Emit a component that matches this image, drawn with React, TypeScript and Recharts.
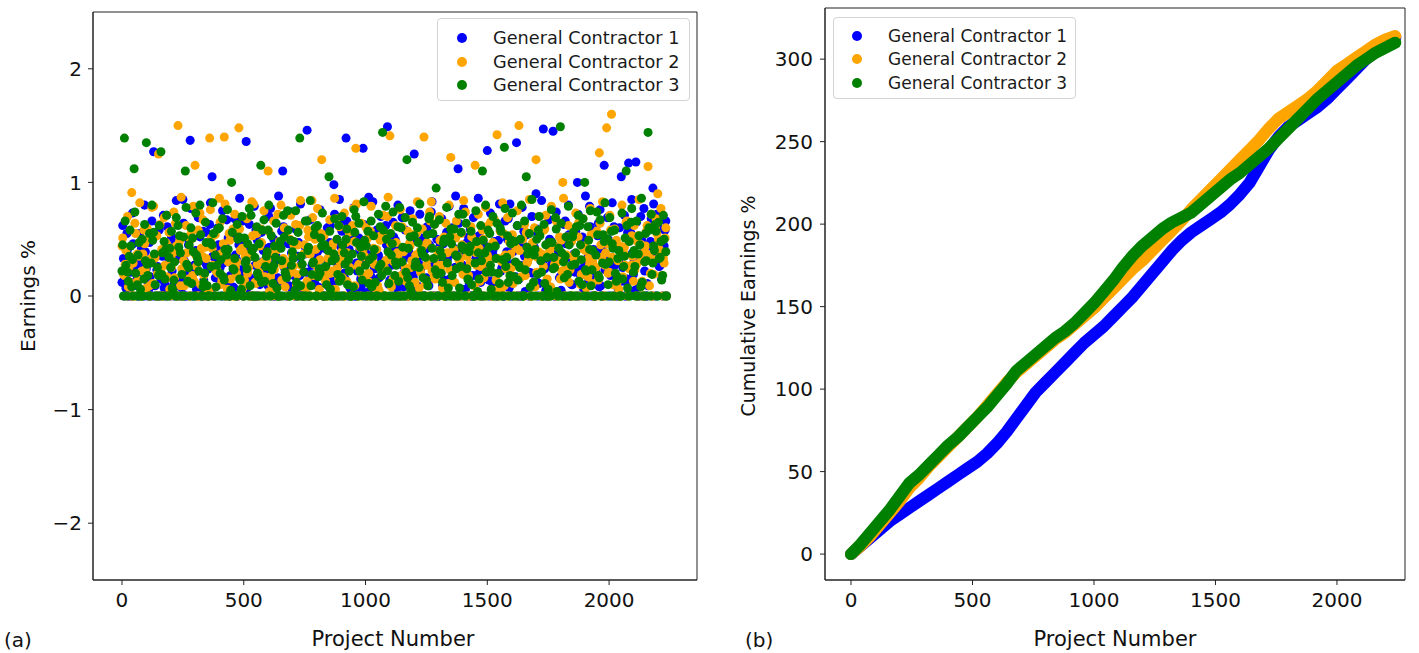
import React from 'react';
import { ScatterChart, Scatter, XAxis, YAxis, ZAxis, ReferenceArea } from 'recharts';

const SERIES_NAMES = ['General Contractor 1', 'General Contractor 2', 'General Contractor 3'];
const SERIES_COLORS = ['#0000ff', '#ffa500', '#008000'];
const X_TICKS = [0, 500, 1000, 1500, 2000];
const EARN_TICKS = [-2, -1, 0, 1, 2];
const CUM_TICKS = [0, 50, 100, 150, 200, 250, 300];
const EARN_STEP = 10; // project spacing of each sampled earnings set
const SET_OFFSETS = [0, 6, 3]; // project offset of the three sampled sets
const CUM_STEP = 40; // project spacing of sampled cumulative values

const earningsGC1 = [
  0.12, 0, 0.55, 0.08, 0, 0.31, 0.19, 0, 0.42, 0,
  0.24, 0.06, 0, 1.27, 0.36, 0, 0.15, 0.71, 0, 0.28,
  0, 0.47, 0.09, 0, 0.33, 0.85, 0, 0.14, 1.37, 0,
  0.21, 0, 0.52, 0.04, 0, 0.26, 0.63, 1.05, 0, 0.17,
  0.38, 0, 0.11, 0.67, 0, 0.29, 0.07, 0, 0.45, 0.2,
  0, 1.36, 0.34, 0, 0.13, 0.58, 0, 0.23, 0.4, 0,
  0.09, 0.77, 0, 0.31, 0.16, 0, 1.1, 0.49, 0, 0.25,
  0.05, 0, 0.62, 0.18, 0, 0.37, 1.46, 0, 0.27, 0.12,
  0, 0.55, 0.22, 0, 0.41, 0.08, 0, 0.98, 0.33, 0,
  0.19, 0.64, 1.39, 0, 0.26, 0.04, 0, 0.48, 0.15, 1.3,
  0, 0.35, 0.11, 0.83, 0, 0.24, 0.56, 0, 0.3, 1.49,
  0.14, 0, 0.43, 0.07, 0, 0.69, 0.21, 0, 0.38, 0.1,
  1.25, 0, 0.28, 0.51, 0, 0.16, 0.09, 0.74, 0, 0.32,
  0, 0.2, 0.46, 0, 0.13, 0.37, 0, 0.88, 1.12, 0,
  0.27, 0.06, 0, 0.59, 0.18, 0, 0.42, 0.23, 0, 0.34,
  1.28, 0, 0.12, 0.48, 0, 0.81, 0.25, 0, 0.39, 0.07,
  0, 0.29, 1.35, 0.15, 0, 0.57, 0.2, 0, 0.44, 0.11,
  0.9, 0, 0.31, 1.47, 0.05, 0, 0.26, 1.45, 0, 0.43,
  0.17, 0, 0.66, 0.34, 0, 0.1, 0.21, 1.0, 0, 0.52,
  0.27, 0, 0.79, 0.14, 0, 0.38, 0.08, 0, 1.15, 0.46,
  0, 0.24, 0.61, 0, 0.32, 1.05, 0.13, 0, 1.17, 0.55,
  0.19, 1.18, 0, 0.7, 0.38, 0, 0.09, 0.48, 0.95, 0,
  0.62, 0.27, 0, 0.58,
];
const earningsGC1Mid = [
  0.33, 0.07, 0, 0.21, 0.46, 0.13, 0, 0.28, 0.05, 0.39,
  0, 0.17, 0.52, 0.09, 0.26, 0, 0.35, 0.11, 0.61, 0.03,
  0.22, 0, 0.41, 0.15, 0.07, 0.31, 0, 0.48, 0.19, 0.27,
  0.06, 0.37, 0, 0.14, 0.56, 0.24, 0.02, 0, 0.32, 0.45,
  0.12, 0.29, 0, 0.51, 0.18, 0.08, 0.36, 0, 0.23, 0.66,
  0.04, 0.4, 0.16, 0, 0.27, 0.49, 0.1, 0.3, 0, 0.2,
  0.43, 0.06, 0, 0.34, 0.13, 0.57, 0.25, 0, 0.09, 0.38,
  0.18, 0, 0.47, 0.28, 0.05, 0.21, 0, 0.53, 0.14, 0.33,
  0.08, 0.42, 0, 0.19, 0.3, 0.62, 0.12, 0, 0.26, 0.44,
  0, 0.15, 0.35, 0.07, 0.5, 0, 0.22, 0.4, 0.11, 0.29,
  0.37, 0.04, 0, 0.24, 0.58, 0.16, 0.31, 0, 0.45, 0.1,
  0.27, 0.52, 0, 0.13, 0.36, 0.08, 0.2, 0, 0.48, 0.17,
  0.06, 0.34, 0.23, 0, 0.41, 0.12, 0.55, 0.28, 0, 0.19,
  0.44, 0.09, 0, 0.32, 0.15, 0.6, 0.25, 0, 0.38, 0.05,
  0.21, 0.47, 0.11, 0, 0.3, 0.18, 0.53, 0, 0.26, 0.4,
  0.14, 0, 0.35, 0.07, 0.49, 0.22, 0, 0.31, 0.68, 0.1,
  0.39, 0.17, 0, 0.27, 0.45, 0.04, 0.33, 0, 0.2, 0.57,
  0.12, 0.36, 0, 0.24, 0.08, 0.5, 0.29, 0, 0.42, 0.16,
  0.31, 0, 0.19, 0.54, 0.1, 0.37, 0, 0.23, 0.46, 0.06,
  0.28, 0.13, 0, 0.41, 0.21, 0.64, 0.09, 0, 0.34, 0.5,
  0.18, 0, 0.3, 0.07, 0.43, 0.25, 0, 0.56, 0.14, 0.38,
  0.05, 0.32, 0, 0.47, 0.22, 0.11, 0.6, 0, 0.35, 0.72,
  0.26, 0.15, 0.44, 0,
];
const earningsGC1Upper = [
  0.62, 0.18, 0.41, 0, 0.73, 0.27, 0.09, 0.55, 0.34, 0.8,
  0.14, 0.47, 0.66, 0, 0.23, 0.58, 0.38, 0.07, 0.71, 0.3,
  0.52, 0.1, 0.84, 0.36, 0, 0.64, 0.2, 0.45, 0.77, 0.13,
  0.4, 0.69, 0.05, 0.57, 0.29, 0, 0.82, 0.35, 0.16, 0.6,
  0.25, 0.75, 0.44, 0.11, 0, 0.53, 0.68, 0.31, 0.86, 0.19,
  0.48, 0.03, 0.63, 0.37, 0.79, 0, 0.22, 0.56, 0.42, 0.12,
  0.7, 0.33, 0.5, 0, 0.88, 0.15, 0.61, 0.26, 0.46, 0.74,
  0.08, 0.59, 0.35, 0.81, 0, 0.43, 0.21, 0.67, 0.54, 0.1,
  0.39, 0.76, 0.24, 0, 0.6, 0.47, 0.13, 0.72, 0.32, 0.85,
  0.57, 0.2, 0.66, 0.41, 0, 0.78, 0.29, 0.51, 0.06, 0.63,
  0.44, 0.87, 0.17, 0.55, 0, 0.36, 0.7, 0.23, 0.62, 0.4,
  0.11, 0.65, 0.49, 0.8, 0, 0.27, 0.58, 0.34, 0.75, 0.19,
  0.53, 0.09, 0.72, 0.38, 0, 0.61, 0.45, 0.83, 0.22, 0.5,
  0.3, 0.68, 0.14, 0.56, 0.79, 0, 0.42, 0.25, 0.64, 0.37,
  0.77, 0.2, 0.52, 0, 0.69, 0.33, 0.86, 0.12, 0.47, 0.6,
  0.24, 0.73, 0.4, 0.07, 0, 0.58, 0.31, 0.66, 0.5, 0.81,
  0.16, 0.45, 0.62, 0, 0.78, 0.35, 0.54, 0.21, 0.7, 0.43,
  0.59, 0.11, 0.84, 0.32, 0, 0.67, 0.48, 0.26, 0.74, 0.38,
  0.05, 0.63, 0.46, 0.8, 0, 0.29, 0.57, 0.72, 0.18, 0.5,
  0.88, 0.34, 0.61, 0.14, 0, 0.53, 0.76, 0.4, 0.23, 0.69,
  0.47, 0.82, 0.27, 0, 0.6, 0.39, 0.71, 0.15, 0.56, 0.85,
  0.32, 0.65, 0.09, 0.5, 0.77, 0, 0.44, 0.68, 0.81, 0.36,
  0.58, 0.73, 0.41, 0.66,
];

const earningsGC2 = [
  0.44, 0.18, 0, 0.26, 0.91, 0, 0.12, 0.35, 0, 0.58,
  0.07, 0, 0.33, 0.79, 0, 1.25, 0.21, 0, 0.47, 0.16,
  0, 0.38, 0.64, 1.5, 0.09, 0, 0.29, 0.52, 0, 0.18,
  1.15, 0, 0.73, 0.35, 0, 0.07, 1.39, 0.42, 0, 0.23,
  0.86, 0.14, 1.4, 0, 0.55, 0.31, 0, 0.2, 1.48, 0.04,
  0, 0.37, 0.25, 0, 0.81, 0.11, 0, 0.59, 0.3, 0,
  1.1, 0.17, 0, 0.43, 0.72, 0, 0.27, 0.08, 0, 0.5,
  0.36, 0, 0.19, 0.62, 0, 0.45, 0.13, 0, 0.84, 0.28,
  0, 0.06, 1.2, 0.53, 0, 0.39, 0.22, 0, 0.68, 0.15,
  0.32, 0, 0.47, 0.1, 0, 0.77, 1.3, 0.26, 0, 0.41,
  0.18, 0, 0.57, 0.34, 0, 0.09, 0.49, 0, 0.24, 0.7,
  1.41, 0, 0.14, 0.38, 0, 0.61, 0.2, 0, 0.46, 0.31,
  0, 0.55, 0.07, 0, 1.4, 0.27, 0, 0.83, 0.16, 0,
  0.4, 0.23, 0, 0.64, 0.11, 1.22, 0, 0.51, 0.35, 0,
  0.19, 0.74, 0, 0.29, 0.44, 1.15, 0, 0.13, 0.58, 0,
  0.36, 0.21, 0, 0.67, 1.42, 0, 0.3, 0.09, 0, 0.48,
  0.25, 0, 0.42, 1.5, 0.17, 0, 0.56, 0.33, 0, 0.12,
  1.2, 0.39, 0, 0.26, 0.71, 0, 0.08, 0.45, 0, 0.3,
  0.15, 1.0, 0, 0.52, 0.23, 0, 0.37, 0.62, 0, 0.19,
  0.44, 0, 0.28, 0.11, 0, 0.57, 1.26, 0.34, 0, 1.48,
  0.21, 1.6, 0, 0.49, 0.06, 0, 0.38, 0.65, 0, 0.27,
  0.13, 0, 0.53, 0.32, 0, 0.44, 1.14, 0.2, 0, 0.6,
  0.9, 0.36, 0, 0.51,
];
const earningsGC2Mid = [
  0.19, 0.4, 0.08, 0, 0.29, 0.55, 0.14, 0, 0.37, 0.23,
  0.5, 0, 0.11, 0.34, 0.2, 0.63, 0, 0.27, 0.45, 0.06,
  0.31, 0.16, 0, 0.48, 0.24, 0.09, 0.38, 0, 0.57, 0.13,
  0.26, 0, 0.42, 0.18, 0.33, 0.05, 0.51, 0, 0.22, 0.36,
  0.1, 0.46, 0, 0.3, 0.15, 0.59, 0.25, 0, 0.4, 0.07,
  0.35, 0.2, 0, 0.53, 0.12, 0.28, 0.44, 0, 0.17, 0.32,
  0.04, 0.39, 0.23, 0, 0.48, 0.14, 0.6, 0.3, 0, 0.21,
  0.45, 0.1, 0, 0.27, 0.37, 0.07, 0.52, 0, 0.18, 0.41,
  0.24, 0.55, 0, 0.13, 0.33, 0.2, 0.46, 0.06, 0, 0.3,
  0.16, 0, 0.38, 0.25, 0.62, 0.09, 0, 0.43, 0.19, 0.35,
  0.5, 0.12, 0, 0.28, 0.41, 0.05, 0.22, 0.56, 0, 0.34,
  0.08, 0.3, 0.47, 0, 0.18, 0.39, 0.13, 0, 0.25, 0.54,
  0.36, 0, 0.21, 0.44, 0.1, 0.32, 0.66, 0, 0.15, 0.27,
  0.49, 0.07, 0, 0.38, 0.23, 0.58, 0.12, 0, 0.31, 0.45,
  0.2, 0.35, 0, 0.52, 0.09, 0.27, 0.42, 0, 0.16, 0.61,
  0.28, 0, 0.46, 0.14, 0.33, 0.06, 0.55, 0.24, 0, 0.37,
  0.11, 0.43, 0, 0.26, 0.5, 0.18, 0.3, 0, 0.47, 0.08,
  0.34, 0.21, 0, 0.59, 0.15, 0.4, 0.05, 0.28, 0, 0.52,
  0.22, 0, 0.36, 0.12, 0.48, 0.3, 0, 0.65, 0.19, 0.41,
  0.07, 0.33, 0.54, 0, 0.25, 0.14, 0.45, 0, 0.38, 0.2,
  0.58, 0.1, 0, 0.31, 0.44, 0.17, 0.27, 0, 0.5, 0.35,
  0.23, 0.48, 0, 0.13, 0.39, 0.62, 0.09, 0, 0.32, 0.55,
  0.41, 0.18, 0.29, 0,
];
const earningsGC2Upper = [
  0.51, 0.28, 0.7, 0.12, 0, 0.64, 0.37, 0.82, 0.22, 0.46,
  0.6, 0.09, 0.78, 0.33, 0.53, 0, 0.41, 0.69, 0.17, 0.56,
  0.25, 0.74, 0.44, 0, 0.87, 0.31, 0.62, 0.15, 0.5, 0.79,
  0.36, 0.58, 0.1, 0.67, 0.43, 0, 0.76, 0.27, 0.54, 0.2,
  0.65, 0.38, 0.81, 0.06, 0.49, 0, 0.72, 0.3, 0.59, 0.42,
  0.14, 0.68, 0.35, 0.83, 0, 0.55, 0.21, 0.47, 0.75, 0.29,
  0.57, 0.11, 0.66, 0.4, 0, 0.8, 0.33, 0.52, 0.19, 0.71,
  0.26, 0.63, 0.45, 0.84, 0.08, 0, 0.58, 0.37, 0.69, 0.5,
  0.77, 0.32, 0.54, 0.18, 0, 0.67, 0.43, 0.86, 0.24, 0.61,
  0.39, 0.73, 0.13, 0.56, 0, 0.48, 0.81, 0.28, 0.64, 0.35,
  0.6, 0.2, 0.79, 0.42, 0.07, 0, 0.53, 0.71, 0.31, 0.87,
  0.46, 0.15, 0.62, 0.34, 0.76, 0, 0.25, 0.57, 0.44, 0.68,
  0.12, 0.83, 0.39, 0.59, 0, 0.47, 0.74, 0.22, 0.63, 0.35,
  0.7, 0.27, 0.52, 0.09, 0.8, 0, 0.41, 0.66, 0.32, 0.55,
  0.84, 0.43, 0.18, 0.61, 0, 0.38, 0.72, 0.26, 0.5, 0.78,
  0.33, 0.65, 0.47, 0.05, 0, 0.57, 0.82, 0.36, 0.69, 0.23,
  0.54, 0.16, 0.75, 0.4, 0, 0.63, 0.29, 0.85, 0.45, 0.6,
  0.21, 0.7, 0.37, 0.58, 0.13, 0, 0.79, 0.44, 0.66, 0.31,
  0.49, 0.86, 0.24, 0.62, 0, 0.35, 0.73, 0.52, 0.1, 0.68,
  0.4, 0.17, 0.77, 0.3, 0.55, 0, 0.64, 0.83, 0.27, 0.46,
  0.71, 0.34, 0.59, 0.12, 0, 0.8, 0.43, 0.66, 0.24, 0.53,
  0.62, 0.28, 0.85, 0.45, 0, 0.57, 0.36, 0.72, 0.19, 0.68,
  0.5, 0.77, 0.33, 0.6,
];

const earningsGC3 = [
  0.22, 1.39, 0, 0.35, 0.08, 1.12, 0, 0.47, 0, 0.15,
  1.35, 0, 0.29, 0.56, 0, 0.18, 1.27, 0, 0.41, 0,
  0.25, 0.04, 0, 0.62, 0.38, 0, 1.1, 0.13, 0, 0.51,
  0, 0.33, 0.8, 0, 0.2, 0.09, 0, 0.45, 0, 0.27,
  0.6, 0, 0.14, 0.36, 0, 1.0, 0.23, 0, 0.52, 0.06,
  0, 0.31, 0, 0.71, 0.42, 0, 0.17, 1.15, 0, 0.26,
  0.58, 0, 0.11, 0.34, 0, 0.48, 0, 0.21, 0.75, 0,
  0.39, 0.05, 0, 1.39, 0.28, 0, 0.66, 0, 0.19, 0.54,
  0, 0.24, 0.44, 0, 0.1, 1.05, 0, 0.37, 0, 0.62,
  0.16, 0, 0.5, 0.32, 0, 0.08, 0.7, 0, 0.43, 0,
  0.27, 0.57, 0, 0.35, 0.12, 0, 0.61, 1.44, 0, 0.22,
  0, 0.46, 0.18, 0, 0.78, 0.3, 0, 1.2, 0.09, 0,
  0.53, 0, 0.25, 0.4, 0, 0.14, 0.68, 0, 0.33, 0.95,
  0, 0.2, 0.47, 0, 0.07, 0.59, 0, 0.36, 0, 0.26,
  0.72, 0, 0.15, 0.44, 0, 0.29, 0.04, 0, 1.1, 0.38,
  0, 0.55, 0.21, 0, 0.64, 0.11, 0, 1.31, 0.34, 0,
  0.49, 0.17, 0, 0.27, 0.8, 0, 1.05, 0.39, 0, 0.12,
  0, 0.58, 0.31, 0, 0.45, 0.06, 0, 0.24, 0.69, 0,
  1.49, 0, 0.35, 0.19, 0, 0.52, 0.28, 0, 0.62, 0.1,
  1.0, 0, 0.41, 0.23, 0, 0.74, 0.16, 0, 0.48, 0,
  0.3, 0.57, 0, 0.13, 0.4, 0, 0.26, 1.1, 0, 0.65,
  0.21, 0, 0.37, 0.08, 0, 0.55, 1.44, 0, 0.29, 0.63,
  0, 0.34, 0.18, 0,
];
const earningsGC3Mid = [
  0, 0.27, 0.13, 0.44, 0, 0.2, 0.36, 0.06, 0, 0.31,
  0.18, 0, 0.49, 0.1, 0.25, 0, 0.38, 0.15, 0, 0.42,
  0.07, 0.3, 0, 0.53, 0.19, 0, 0.28, 0.45, 0.11, 0,
  0.36, 0.22, 0, 0.12, 0.47, 0, 0.26, 0.55, 0.08, 0,
  0.32, 0.17, 0, 0.41, 0.05, 0.24, 0, 0.5, 0.14, 0,
  0.29, 0.46, 0.09, 0, 0.34, 0.2, 0, 0.58, 0.13, 0.39,
  0, 0.23, 0.44, 0.07, 0, 0.31, 0.52, 0.16, 0, 0.27,
  0.48, 0.12, 0, 0.35, 0.21, 0, 0.43, 0.09, 0.3, 0,
  0.17, 0.51, 0, 0.26, 0.4, 0.06, 0, 0.33, 0.19, 0,
  0.45, 0.28, 0.1, 0, 0.37, 0.56, 0, 0.22, 0.14, 0.49,
  0, 0.32, 0.08, 0.41, 0, 0.25, 0.18, 0, 0.5, 0.11,
  0.36, 0, 0.27, 0.13, 0.6, 0, 0.21, 0.42, 0.05, 0,
  0.3, 0.47, 0, 0.16, 0.34, 0.09, 0, 0.55, 0.23, 0,
  0.4, 0.12, 0, 0.29, 0.52, 0.18, 0, 0.35, 0.07, 0.44,
  0, 0.24, 0.39, 0.1, 0, 0.48, 0.15, 0.31, 0, 0.21,
  0.43, 0.06, 0, 0.33, 0.2, 0.57, 0, 0.26, 0.12, 0.46,
  0, 0.3, 0.14, 0.5, 0, 0.23, 0.37, 0.08, 0, 0.41,
  0.19, 0.53, 0, 0.11, 0.34, 0, 0.47, 0.25, 0.04, 0,
  0.38, 0.16, 0, 0.45, 0.27, 0, 0.61, 0.13, 0.32, 0,
  0.22, 0.49, 0.09, 0, 0.36, 0.18, 0, 0.54, 0.28, 0.1,
  0, 0.42, 0.2, 0.33, 0, 0.15, 0.51, 0.07, 0, 0.37,
  0.26, 0, 0.45, 0.12, 0.3, 0, 0.58, 0.19, 0.4, 0,
  0.33, 0.14, 0.5, 0,
];
const earningsGC3Upper = [
  0.45, 0.66, 0.21, 0.58, 0.32, 0.74, 0.1, 0, 0.5, 0.63,
  0.28, 0.55, 0.8, 0.37, 0, 0.62, 0.19, 0.48, 0.71, 0.34,
  0.57, 0.14, 0.69, 0.43, 0, 0.52, 0.78, 0.25, 0.6, 0.39,
  0.73, 0.3, 0.54, 0.08, 0.65, 0, 0.47, 0.82, 0.36, 0.59,
  0.2, 0.68, 0.41, 0.76, 0, 0.56, 0.33, 0.63, 0.15, 0.7,
  0.51, 0.24, 0.77, 0.4, 0, 0.61, 0.46, 0.12, 0.67, 0.35,
  0.8, 0.53, 0.27, 0.64, 0, 0.42, 0.71, 0.18, 0.58, 0.49,
  0.33, 0.75, 0.56, 0.09, 0, 0.66, 0.4, 0.84, 0.29, 0.6,
  0.62, 0.2, 0.73, 0.45, 0, 0.57, 0.31, 0.68, 0.5, 0.13,
  0.7, 0.38, 0.59, 0.22, 0, 0.76, 0.47, 0.64, 0.35, 0.83,
  0.44, 0.11, 0.66, 0.53, 0, 0.72, 0.28, 0.58, 0.79, 0.39,
  0.55, 0.74, 0.3, 0.61, 0, 0.43, 0.69, 0.16, 0.52, 0.65,
  0.26, 0.6, 0.81, 0.37, 0, 0.54, 0.7, 0.42, 0.63, 0.19,
  0.67, 0.35, 0.5, 0.78, 0, 0.46, 0.59, 0.24, 0.72, 0.56,
  0.41, 0.64, 0.14, 0.57, 0, 0.75, 0.38, 0.62, 0.49, 0.8,
  0.58, 0.27, 0.7, 0.44, 0, 0.6, 0.32, 0.77, 0.53, 0.18,
  0.73, 0.48, 0.62, 0.25, 0, 0.66, 0.43, 0.55, 0.85, 0.36,
  0.5, 0.7, 0.21, 0.63, 0, 0.47, 0.76, 0.34, 0.59, 0.42,
  0.64, 0.3, 0.52, 0.79, 0, 0.56, 0.38, 0.71, 0.45, 0.68,
  0.23, 0.61, 0.75, 0.4, 0, 0.54, 0.67, 0.29, 0.82, 0.5,
  0.69, 0.46, 0.58, 0.17, 0, 0.73, 0.35, 0.62, 0.48, 0.77,
  0.4, 0.66, 0.53, 0.86, 0, 0.31, 0.6, 0.72, 0.44, 0.57,
  0.65, 0.48, 0.71, 0.39,
];

const cumulativeGC1 = [
  0, 5, 10, 15, 20, 24, 28, 32, 36, 40,
  44, 48, 52, 56, 61, 67, 74, 82, 90, 98,
  104, 110, 116, 122, 128, 133, 138, 144, 150, 156,
  163, 170, 177, 184, 190, 195, 199, 203, 207, 212,
  218, 225, 235, 245, 253, 259, 263, 267, 271, 276,
  282, 288, 294, 300, 305, 310, 313,
];

const cumulativeGC2 = [
  0, 5, 11, 18, 25, 32, 40, 46, 53, 59,
  65, 71, 77, 83, 90, 97, 104, 110, 115, 120,
  125, 130, 134, 139, 144, 149, 155, 161, 167, 173,
  178, 184, 190, 196, 202, 209, 215, 221, 227, 233,
  239, 245, 251, 258, 264, 268, 272, 276, 281, 287,
  293, 297, 301, 305, 309, 312, 314,
];

const cumulativeGC3 = [
  0, 6, 13, 20, 27, 35, 43, 48, 54, 60,
  66, 71, 77, 83, 89, 96, 103, 111, 116, 121,
  126, 131, 135, 140, 146, 152, 159, 166, 174, 181,
  187, 192, 197, 201, 204, 207, 212, 217, 222, 227,
  231, 236, 241, 246, 252, 258, 264, 270, 276, 281,
  286, 291, 296, 300, 304, 307, 310,
];

const EARNINGS = [
  [earningsGC1, earningsGC1Mid, earningsGC1Upper],
  [earningsGC2, earningsGC2Mid, earningsGC2Upper],
  [earningsGC3, earningsGC3Mid, earningsGC3Upper],
];
const CUMULATIVE = [cumulativeGC1, cumulativeGC2, cumulativeGC3];

const toPoints = (vals: number[], step: number, start = 0) => vals.map((v, i) => ({ x: start + i * step, y: v }));

const FONT = 'DejaVu Sans, sans-serif';
const INK = '#111';
const tickStyle = { fontSize: 20, fill: INK, fontFamily: FONT };
const lineStyle = { stroke: '#222', strokeWidth: 1 };
const fmt = (v: number) => (v < 0 ? '\u2212' + Math.abs(v) : String(v));

function LegendBox({ left, top, width, height, rows, markerX, textX, fontSize }: any) {
  return (
    <div
      style={{
        position: 'absolute', left, top, width, height, boxSizing: 'border-box',
        border: '1px solid #d3d3d3', borderRadius: 4, background: 'rgba(255,255,255,0.85)',
        fontFamily: FONT, fontSize, color: '#1a1a1a',
      }}
    >
      {SERIES_NAMES.map((name, i) => (
        <div key={name} style={{ position: 'absolute', left: 0, top: rows[i] - 12, height: 24, width: '100%' }}>
          <div style={{ position: 'absolute', left: markerX - 5, top: 7, width: 10, height: 10, borderRadius: 5, background: SERIES_COLORS[i] }} />
          <div style={{ position: 'absolute', left: textX, top: 0, lineHeight: '24px', whiteSpace: 'nowrap' }}>{name}</div>
        </div>
      ))}
    </div>
  );
}

export default function App() {
  const xDomainA: [number, number] = [-119, 2361];
  const xDomainB: [number, number] = [-107, 2280];
  const yDomainA: [number, number] = [-2.5, 2.5];
  const yDomainB: [number, number] = [-15.7, 331];
  return (
    <div style={{ position: 'absolute', left: 0, top: 0, width: 1419, height: 653, background: '#fff', overflow: 'hidden' }}>
      <div style={{ position: 'absolute', left: 0, top: 0 }}>
        <ScatterChart width={720} height={653} margin={{ top: 12, right: 23, bottom: 0, left: 0 }}>
          <XAxis type="number" dataKey="x" domain={xDomainA} ticks={X_TICKS} allowDataOverflow height={73}
            tickSize={5} tickMargin={8} tick={tickStyle} axisLine={lineStyle} tickLine={lineStyle} />
          <YAxis type="number" dataKey="y" domain={yDomainA} ticks={EARN_TICKS} allowDataOverflow width={93}
            tickSize={5} tickMargin={6} tick={tickStyle} tickFormatter={fmt} axisLine={lineStyle} tickLine={lineStyle} />
          <ZAxis range={[72, 72]} />
          {EARNINGS.map((sets, i) => (
            <Scatter key={i} name={SERIES_NAMES[i]}
              data={sets.flatMap((vals, k) => toPoints(vals, EARN_STEP, SET_OFFSETS[k]))}
              fill={SERIES_COLORS[i]} isAnimationActive={false} />
          ))}
          <ReferenceArea x1={xDomainA[0]} x2={xDomainA[1]} y1={yDomainA[0]} y2={yDomainA[1]}
            fill="none" fillOpacity={0} stroke="#222" strokeWidth={1} ifOverflow="visible" />
        </ScatterChart>
      </div>
      <div style={{ position: 'absolute', left: 720, top: 0 }}>
        <ScatterChart width={699} height={653} margin={{ top: 8, right: 14, bottom: 0, left: 0 }}>
          <XAxis type="number" dataKey="x" domain={xDomainB} ticks={X_TICKS} allowDataOverflow height={73}
            tickSize={5} tickMargin={8} tick={tickStyle} axisLine={lineStyle} tickLine={lineStyle} />
          <YAxis type="number" dataKey="y" domain={yDomainB} ticks={CUM_TICKS} allowDataOverflow width={105}
            tickSize={5} tickMargin={7} tick={tickStyle} axisLine={lineStyle} tickLine={lineStyle} />
          <ZAxis range={[110, 110]} />
          {CUMULATIVE.map((vals, i) => (
            <Scatter key={i} name={SERIES_NAMES[i]} data={toPoints(vals, CUM_STEP)} fill={SERIES_COLORS[i]}
              line={{ stroke: SERIES_COLORS[i], strokeWidth: 12, strokeLinejoin: 'round', strokeLinecap: 'round' }}
              isAnimationActive={false} />
          ))}
          <ReferenceArea x1={xDomainB[0]} x2={xDomainB[1]} y1={yDomainB[0]} y2={yDomainB[1]}
            fill="none" fillOpacity={0} stroke="#222" strokeWidth={1} ifOverflow="visible" />
        </ScatterChart>
      </div>
      <LegendBox left={437} top={18} width={253} height={83} rows={[19, 42.5, 66]} markerX={24} textX={55} fontSize={17.7} />
      <LegendBox left={833} top={17} width={243} height={82} rows={[18, 41, 65]} markerX={23} textX={54} fontSize={17} />
      <svg width={1419} height={653} style={{ position: 'absolute', left: 0, top: 0, pointerEvents: 'none' }}>
        <g fontFamily={FONT} fill={INK}>
          <text x={28} y={296} fontSize={20} textAnchor="middle" dominantBaseline="central" transform="rotate(-90 28 296)">Earnings %</text>
          <text x={748} y={306} fontSize={19} textAnchor="middle" dominantBaseline="central" transform="rotate(-90 748 306)">Cumulative Earnings %</text>
          <text x={393} y={646} fontSize={21} textAnchor="middle">Project Number</text>
          <text x={1115} y={646} fontSize={21} textAnchor="middle">Project Number</text>
          <text x={4} y={647} fontSize={20}>(a)</text>
          <text x={745} y={647} fontSize={20}>(b)</text>
        </g>
      </svg>
    </div>
  );
}
